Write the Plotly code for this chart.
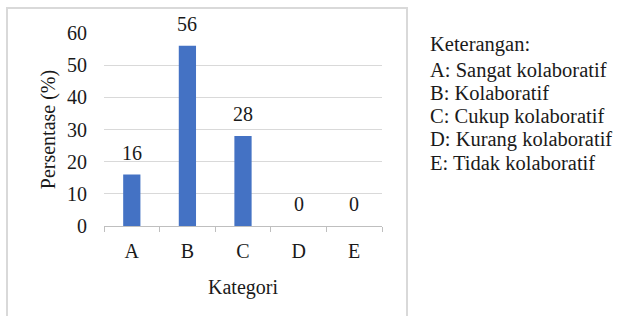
import plotly.graph_objects as go

categories = ["A", "B", "C", "D", "E"]
values = [16, 56, 28, 0, 0]
y_ticks = [0, 10, 20, 30, 40, 50, 60]
legend_title = "Keterangan:"
legend_lines = ["A: Sangat kolaboratif", "B: Kolaboratif", "C: Cukup kolaboratif",
                "D: Kurang kolaboratif", "E: Tidak kolaboratif"]

FONT = "Liberation Serif"
TXT = "#1a1a1a"
FS = 20
LFS = 20.5

fig = go.Figure()
fig.add_trace(go.Bar(x=categories, y=values, marker=dict(color="#4472C4", line=dict(width=0)),
                     width=0.31, hoverinfo="skip"))

# data labels
for c, v in zip(categories, values):
    fig.add_annotation(x=c, y=v, text=str(v), showarrow=False, yanchor="middle",
                       yshift=22, font=dict(family=FONT, size=FS, color=TXT))

W, H = 619, 316
L, R, T, B = 104, 237, 33, 90
pw = W - L - R
ph = H - T - B

def px(xp):
    return (xp - L) / pw

def py(yp):
    return (H - B - yp) / ph

# legend text
fig.add_annotation(xref="paper", yref="paper", x=px(428), y=py(44.5), text=legend_title,
                   showarrow=False, xanchor="left", yanchor="middle",
                   font=dict(family=FONT, size=LFS, color=TXT))
for i, line in enumerate(legend_lines):
    fig.add_annotation(xref="paper", yref="paper", x=px(428), y=py(70 + 23.3 * i), text=line,
                       showarrow=False, xanchor="left", yanchor="middle",
                       font=dict(family=FONT, size=LFS, color=TXT))

# outer border
fig.add_shape(type="rect", xref="paper", yref="paper", x0=px(7), x1=px(407),
              y0=py(330), y1=py(8), line=dict(color="#d9d9d9", width=2), layer="below")

fig.update_layout(
    width=W, height=H, margin=dict(l=L, r=R, t=T, b=B, autoexpand=False),
    paper_bgcolor="white", plot_bgcolor="white", showlegend=False,
    font=dict(family=FONT, size=FS, color=TXT),
    xaxis=dict(
        title=dict(text="Kategori", font=dict(family=FONT, size=FS, color=TXT), standoff=18),
        range=[-0.5, 4.5], showline=True, linecolor="#bfbfbf", linewidth=1,
        ticks="outside", tickson="boundaries", ticklen=5, tickcolor="#bfbfbf",
        ticklabelstandoff=7,
        tickfont=dict(family=FONT, size=FS, color=TXT), showgrid=False, automargin=False,
    ),
    yaxis=dict(
        title=dict(text="Persentase (%)", font=dict(family=FONT, size=FS, color=TXT), standoff=6),
        range=[0, 60], tickvals=y_ticks, showgrid=True, gridcolor="#d9d9d9", gridwidth=1,
        zeroline=False, showline=False, ticklabelstandoff=16, automargin=False,
        tickfont=dict(family=FONT, size=FS, color=TXT),
    ),
)

fig.write_html("out.html", config={"displayModeBar": False},
               post_script="document.body.style.margin='0';document.body.style.padding='0';")
